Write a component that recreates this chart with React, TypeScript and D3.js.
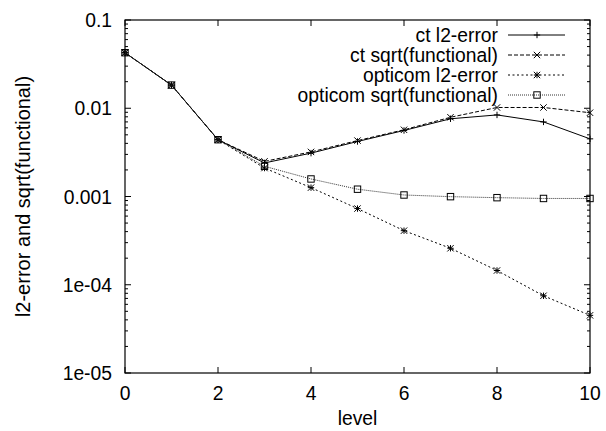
import React, { useRef, useEffect } from 'react';
import * as d3 from 'd3';

const levels = [0, 1, 2, 3, 4, 5, 6, 7, 8, 9, 10];
const ctL2 = [0.0426, 0.0183, 0.0044, 0.0024, 0.0031, 0.0042, 0.0056, 0.0076, 0.0084, 0.0070, 0.0045];
const ctSqrt = [0.0426, 0.0183, 0.0044, 0.0025, 0.0032, 0.0043, 0.0057, 0.0079, 0.0102, 0.0102, 0.0089];
const opticomL2 = [0.0426, 0.0183, 0.0044, 0.0021, 0.00126, 0.00073, 0.00041, 0.000259, 0.000145, 0.000075, 0.000045];
const opticomSqrt = [0.0426, 0.0183, 0.0044, 0.0022, 0.00158, 0.00121, 0.00104, 0.000996, 0.00097, 0.00095, 0.00095];
const yTicks = [0.1, 0.01, 0.001, 0.0001, 0.00001];
const yTickLabels = ['0.1', '0.01', '0.001', '1e-04', '1e-05'];
const xTicks = [0, 2, 4, 6, 8, 10];

const series = [
    { name: 'ct l2-error', values: ctL2, dash: null, marker: 'plus', color: '#000' },
    { name: 'ct sqrt(functional)', values: ctSqrt, dash: '4,2', marker: 'cross', color: '#000' },
    { name: 'opticom l2-error', values: opticomL2, dash: '2,2.5', marker: 'star', color: '#000' },
    { name: 'opticom sqrt(functional)', values: opticomSqrt, dash: '1,1', marker: 'square', color: '#333' },
];

function drawMarker(g, type, x, y) {
    const s = 3.2;
    if (type === 'square') {
        g.append('rect').attr('x', x - s).attr('y', y - s).attr('width', 2 * s).attr('height', 2 * s)
            .attr('fill', 'none').attr('stroke', '#000').attr('stroke-width', 1);
        return;
    }
    const segs = [];
    if (type === 'plus' || type === 'star') segs.push([x - s, y, x + s, y], [x, y - s, x, y + s]);
    if (type === 'cross' || type === 'star') segs.push([x - s, y - s, x + s, y + s], [x - s, y + s, x + s, y - s]);
    segs.forEach(p => {
        g.append('line').attr('x1', p[0]).attr('y1', p[1]).attr('x2', p[2]).attr('y2', p[3])
            .attr('stroke', '#000').attr('stroke-width', 1);
    });
}

function Chart() {
    const ref = useRef();
    useEffect(() => {
        const svg = d3.select(ref.current);
        svg.selectAll('*').remove();
        const left = 125, right = 590, top = 20, bottom = 373;
        const font = '"Liberation Sans", Arial, sans-serif';
        const fs = 19.3;

        const x = d3.scaleLinear().domain([0, 10]).range([left, right]);
        const y = d3.scaleLog().domain([1e-5, 0.1]).range([bottom, top]);

        // frame
        svg.append('rect').attr('x', left).attr('y', top).attr('width', right - left).attr('height', bottom - top)
            .attr('fill', 'none').attr('stroke', '#000').attr('stroke-width', 1.2);

        // y ticks (major + minor, mirrored)
        const minor = [];
        for (let e = -5; e < -1; e++) for (let m = 2; m <= 9; m++) minor.push(m * Math.pow(10, e));
        minor.forEach(v => {
            svg.append('line').attr('x1', left).attr('x2', left + 3).attr('y1', y(v)).attr('y2', y(v)).attr('stroke', '#000');
            svg.append('line').attr('x1', right).attr('x2', right - 3).attr('y1', y(v)).attr('y2', y(v)).attr('stroke', '#000');
        });
        yTicks.forEach((v, i) => {
            svg.append('line').attr('x1', left).attr('x2', left + 6).attr('y1', y(v)).attr('y2', y(v)).attr('stroke', '#000');
            svg.append('line').attr('x1', right).attr('x2', right - 6).attr('y1', y(v)).attr('y2', y(v)).attr('stroke', '#000');
            svg.append('text').attr('x', 112).attr('y', y(v) + 7).attr('text-anchor', 'end')
                .attr('font-family', font).attr('font-size', fs).text(yTickLabels[i]);
        });

        // x ticks
        xTicks.forEach(v => {
            svg.append('line').attr('x1', x(v)).attr('x2', x(v)).attr('y1', bottom).attr('y2', bottom - 6).attr('stroke', '#000');
            svg.append('line').attr('x1', x(v)).attr('x2', x(v)).attr('y1', top).attr('y2', top + 6).attr('stroke', '#000');
            svg.append('text').attr('x', x(v)).attr('y', 400).attr('text-anchor', 'middle')
                .attr('font-family', font).attr('font-size', fs).text(v);
        });

        svg.append('text').attr('x', (left + right) / 2).attr('y', 425).attr('text-anchor', 'middle')
            .attr('font-family', font).attr('font-size', fs).text('level');
        svg.append('text').attr('transform', 'translate(30,' + (top + bottom) / 2 + ') rotate(-90)')
            .attr('text-anchor', 'middle').attr('font-family', font).attr('font-size', 20)
            .text('l2-error and sqrt(functional)');

        const line = d3.line().x((d, i) => x(levels[i])).y(d => y(d));

        series.forEach((s, k) => {
            const g = svg.append('g');
            g.append('path').attr('d', line(s.values)).attr('fill', 'none').attr('stroke', s.color)
                .attr('stroke-width', 1).attr('stroke-dasharray', s.dash);
            s.values.forEach((v, i) => drawMarker(g, s.marker, x(levels[i]), y(v)));

            // legend
            const ly = 35 + k * 20;
            svg.append('text').attr('x', 498).attr('y', ly + 7).attr('text-anchor', 'end')
                .attr('font-family', font).attr('font-size', fs).text(s.name);
            g.append('line').attr('x1', 508).attr('x2', 565).attr('y1', ly).attr('y2', ly)
                .attr('stroke', s.color).attr('stroke-dasharray', s.dash);
            drawMarker(g, s.marker, 537, ly);
        });
    }, []);
    return (
        <svg ref={ref} width="606" height="431" style={{ position: 'absolute', left: 0, top: 0, background: '#fff' }}></svg>
    );
}

export default function App() {
    return <Chart />;
}
